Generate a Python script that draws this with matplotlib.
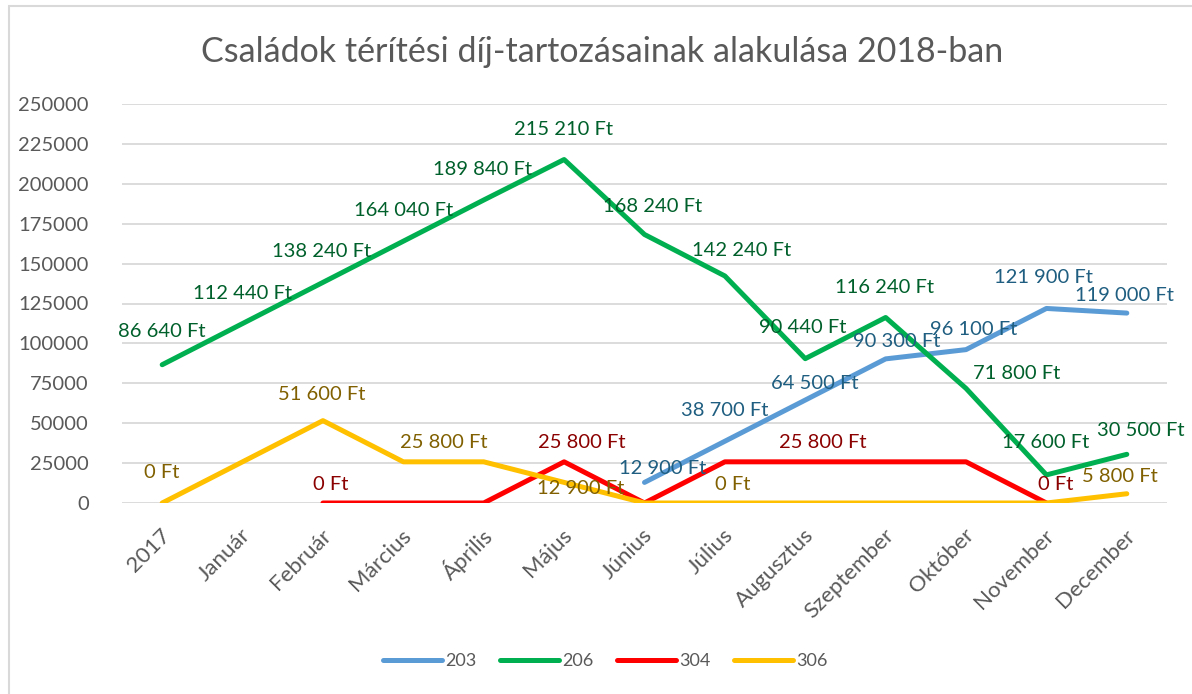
import numpy as np
import matplotlib
matplotlib.use('Agg')
import matplotlib.pyplot as plt
from matplotlib.patches import Rectangle
from matplotlib.transforms import ScaledTranslation

# categories and series values
honapok = ['2017', 'Január', 'Február', 'Március', 'Április', 'Május', 'Június',
           'Július', 'Augusztus', 'Szeptember', 'Október', 'November', 'December']
nan = np.nan
s203 = [nan, nan, nan, nan, nan, nan, 12900, 38700, 64500, 90300, 96100, 121900, 119000]
s206 = [86640, 112440, 138240, 164040, 189840, 215210, 168240, 142240, 90440, 116240, 71800, 17600, 30500]
s304 = [nan, nan, 0, 0, 0, 25800, 0, 25800, 25800, 25800, 25800, 0, nan]
s306 = [0, 25800, 51600, 25800, 25800, 12900, 0, 0, 0, 0, 0, 0, 5800]
y_ticks = [0, 25000, 50000, 75000, 100000, 125000, 150000, 175000, 200000, 225000, 250000]

# which points carry a data label, with pixel offsets
cimkek_203 = [(6, 18, -14), (7, 0, -31), (8, 9, -17), (9, 11, -17), (10, 8, -20), (11, -3, -31), (12, -2, -18)]
cimkek_206 = [(0, 0, -33), (1, 0, -30), (2, -1, -31), (3, 0, -31), (4, -1, -31), (5, -1, -30),
              (6, 8, -28), (7, 17, -25), (8, -3, -31), (9, -1, -30), (10, 51, -15), (11, -1, -32), (12, 14, -24)]
cimkek_304 = [(2, 8, -18), (5, 18, -19), (8, 17, -19), (11, 9, -19)]
cimkek_306 = [(0, -1, -31), (2, -1, -26), (3, 40, -19), (5, 17, 6), (7, 8, -18), (12, -7, -17)]

plt.rcParams['font.family'] = ['Lato', 'DejaVu Sans']
szurke = '#595959'

fig = plt.figure(figsize=(11.92, 6.94), dpi=100)
W, H = 1192, 694
ax = fig.add_axes([122 / W, 1 - 503 / H, (1167 - 122) / W, (503 - 104) / H])

# chart border (only left/top visible in reference)
fig.patches.append(Rectangle((9 / W, -0.05), 1.2, 1 - 6 / H + 0.05, transform=fig.transFigure,
                             fill=False, edgecolor='#d9d9d9', linewidth=1.5))

x = np.arange(len(honapok))
sorozatok = [
    ('203', s203, '#5b9bd5', '#1f5e80', cimkek_203),
    ('206', s206, '#00b050', '#00602b', cimkek_206),
    ('304', s304, '#ff0000', '#8b0000', cimkek_304),
    ('306', s306, '#ffc000', '#806000', cimkek_306),
]

for nev, ertekek, szin, cimke_szin, cimkek in sorozatok:
    ax.plot(x, ertekek, color=szin, linewidth=3.6, label=nev,
            solid_capstyle='round', solid_joinstyle='round', zorder=3)
    for i, dx, dy in cimkek:
        v = ertekek[i]
        szoveg = f'{int(v):,} Ft'.replace(',', ' ')
        ax.annotate(szoveg, (x[i], v), xytext=(dx * 0.72, -dy * 0.72), textcoords='offset points',
                    ha='center', va='center', fontsize=14.5, color=cimke_szin, zorder=4)

ax.set_xlim(-0.5, len(honapok) - 0.5)
ax.set_ylim(0, 250000)
ax.set_yticks(y_ticks)
ax.set_yticklabels([str(t) for t in y_ticks])
ax.set_xticks(x)
ax.set_xticklabels(honapok, rotation=45, ha='right', va='center', rotation_mode='anchor')
ax.tick_params(axis='y', length=0, pad=24, labelsize=14.5, labelcolor=szurke)
ax.tick_params(axis='x', length=0, pad=21, labelsize=16, labelcolor=szurke)
eltolas = ScaledTranslation(5 / 100, 0, fig.dpi_scale_trans)
for lbl in ax.get_xticklabels():
    lbl.set_transform(lbl.get_transform() + eltolas)
ax.grid(axis='y', color='#d9d9d9', linewidth=1.3)
ax.set_axisbelow(True)
for sp in ax.spines.values():
    sp.set_visible(False)

fig.suptitle('Családok térítési díj-tartozásainak alakulása 2018-ban', x=0.505, y=1 - 52 / H,
             va='center', fontsize=24.5, color=szurke)

fig.legend(loc='center', bbox_to_anchor=(605 / W, 1 - 661 / H), ncol=4, frameon=False,
           fontsize=13, handlelength=3.3, handletextpad=0.15, columnspacing=1.3,
           labelcolor=szurke)

fig.savefig('out.png', dpi=100)
